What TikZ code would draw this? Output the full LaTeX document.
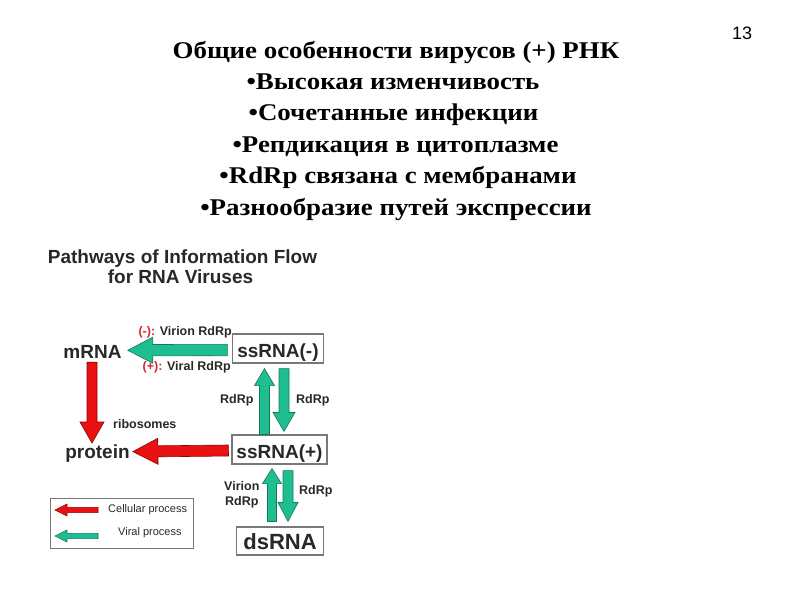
\documentclass[tikz,border=0pt]{standalone}
\usepackage{fontspec}
\setmainfont{Liberation Serif}
\newfontfamily\arialf{Liberation Sans}
\usetikzlibrary{calc}
\definecolor{vgreen}{RGB}{30,190,145}
\definecolor{vgreenD}{RGB}{20,120,90}
\definecolor{cred}{RGB}{232,18,18}
\definecolor{credD}{RGB}{150,0,0}
\definecolor{lblred}{RGB}{215,40,50}
\definecolor{lblgray}{RGB}{40,40,40}
\definecolor{boxgray}{RGB}{120,120,120}
\newcommand\blockarrow[6]{%
  \coordinate (ba-s) at (#1);
  \coordinate (ba-e) at (#2);
  \coordinate (ba-h) at ($(ba-e)!#5!(ba-s)$);
  \path[#6] ($(ba-s)!#3!90:(ba-e)$) -- ($(ba-h)!#3!90:(ba-e)$) -- ($(ba-h)!#4!90:(ba-e)$) -- (ba-e)
    -- ($(ba-h)!#4!-90:(ba-e)$) -- ($(ba-h)!#3!-90:(ba-e)$) -- ($(ba-s)!#3!-90:(ba-e)$) -- cycle;}
\newcommand\ttlx[1]{\scalebox{1.12}[1]{#1}}
\begin{document}
\begin{tikzpicture}[x=1pt,y=-1pt,
  ttl/.style={font=\fontsize{24}{28}\selectfont\bfseries, inner sep=0pt, anchor=base},
  head/.style={font=\arialf\bfseries\fontsize{19}{22}\selectfont, inner sep=0pt, anchor=base, text=lblgray},
  rnabox/.style={draw=boxgray, line width=1.1pt, fill=white, font=\arialf\bfseries\fontsize{19}{22}\selectfont,
    text height=20pt, text depth=3pt, inner ysep=3pt, inner xsep=4.5pt, anchor=base, text=lblgray},
  bignode/.style={font=\arialf\bfseries\fontsize{19}{22}\selectfont, inner sep=0pt, anchor=base, text=lblgray},
  lbl/.style={font=\arialf\bfseries\fontsize{12.5}{14}\selectfont, inner sep=0pt, text=lblgray},
  lgt/.style={font=\arialf\fontsize{11}{13}\selectfont, inner sep=0pt, text=lblgray, anchor=base west},
  garrow/.style={fill=vgreen, draw=vgreenD, line width=0.6pt, line join=miter},
  rarrow/.style={fill=cred, draw=credD, line width=0.6pt, line join=miter}]
\useasboundingbox (0,0) rectangle (800,600);
\fill[white] (0,0) rectangle (800,600);
% title
\node[ttl] (t1) at (396,58) {\ttlx{Общие особенности вирусов (+) РНК}};
\node[ttl] (t2) at (393,89.4) {\ttlx{•Высокая изменчивость}};
\node[ttl] (t3) at (393.5,120.8) {\ttlx{•Сочетанные инфекции}};
\node[ttl] (t4) at (395.5,152.2) {\ttlx{•Репдикация в цитоплазме}};
\node[ttl] (t5) at (398,183.6) {\ttlx{•RdRp связана с мембранами}};
\node[ttl] (t6) at (396,215) {\ttlx{•Разнообразие путей экспрессии}};
\node[font=\arialf\fontsize{18}{20}\selectfont, inner sep=0pt, anchor=base west] (pg) at (732,39) {13};
% diagram heading
\node[head] (h1) at (182.5,263) {Pathways of Information Flow};
\node[head] (h2) at (180.5,283) {for RNA Viruses};
% nodes
\node[bignode] (mrna) at (92.5,358) {mRNA};
\node[bignode] (protein) at (97.5,458) {protein};
\node[rnabox] (sm) at (278,357) {ssRNA(-)};
\node[rnabox] (sp) at (279.5,458) {ssRNA(+)};
\node[rnabox, font=\arialf\bfseries\fontsize{22}{25}\selectfont, text height=19pt, inner xsep=6.5pt] (ds) at (280,549) {dsRNA};
% arrow end points
\coordinate (a1s) at ($(sm.west)+(-5,1.5)$);
\coordinate (a1e) at ($(mrna.east)+(6,-1.2)$);
\coordinate (a2s) at ($(mrna.south)+(-0.5,4)$);
\coordinate (a2e) at ($(protein.north)+(-5.5,-1)$);
\coordinate (a3s) at ($(sp.west)+(-3,1)$);
\coordinate (a3e) at ($(protein.east)+(3,-1.5)$);
\coordinate (a4s) at ($(sp.north)+(-15,0)$);
\coordinate (a4e) at ($(sm.south)+(-13.5,5)$);
\coordinate (a5s) at ($(sm.south)+(6,5)$);
\coordinate (a5e) at ($(sp.north)+(4.5,-3)$);
\coordinate (a6s) at ($(ds.north)+(-8,-5)$);
\coordinate (a6e) at ($(sp.south)+(-7.5,4)$);
\coordinate (a7s) at ($(sp.south)+(8.5,6)$);
\coordinate (a7e) at ($(ds.north)+(8,-5)$);
\blockarrow{a1s}{a1e}{5.7pt}{13pt}{25pt}{garrow}
\blockarrow{a2s}{a2e}{5pt}{12pt}{21pt}{rarrow}
\blockarrow{a3s}{a3e}{5.5pt}{13pt}{25pt}{rarrow}
\blockarrow{a4s}{a4e}{5pt}{10pt}{17pt}{garrow}
\blockarrow{a5s}{a5e}{5pt}{11pt}{19pt}{garrow}
\blockarrow{a6s}{a6e}{4.5pt}{9.5pt}{15pt}{garrow}
\blockarrow{a7s}{a7e}{5pt}{10pt}{19pt}{garrow}
% labels
\node[lbl, anchor=base east] (l1) at (232,335) {\textcolor{lblred}{(-):} Virion RdRp};
\node[lbl, anchor=base east] (l2) at (231,370) {\textcolor{lblred}{(+):} Viral RdRp};
\node[lbl, anchor=base west] (l3) at (220,403) {RdRp};
\node[lbl, anchor=base west] (l4) at (296,403) {RdRp};
\node[lbl, anchor=base west] (rib) at (113,428) {ribosomes};
\node[lbl, anchor=base west] (l5) at (224,490) {Virion};
\node[lbl, anchor=base west] (l6) at (225,505) {RdRp};
\node[lbl, anchor=base west] (l7) at (299,494) {RdRp};
% legend
\node[draw=boxgray, line width=1pt, minimum width=143pt, minimum height=50pt, anchor=north west, inner sep=0pt] (leg) at (50,498) {};
\node[lgt] (c1) at (108,512) {Cellular process};
\node[lgt] (c2) at (118,535) {Viral process};
\coordinate (lr1) at (98,510);
\coordinate (lr2) at (55,510);
\coordinate (lg1) at (98,536);
\coordinate (lg2) at (55,536);
\blockarrow{lr1}{lr2}{2.6pt}{6pt}{12pt}{rarrow}
\blockarrow{lg1}{lg2}{2.6pt}{6pt}{12pt}{garrow}
\end{tikzpicture}
\end{document}
